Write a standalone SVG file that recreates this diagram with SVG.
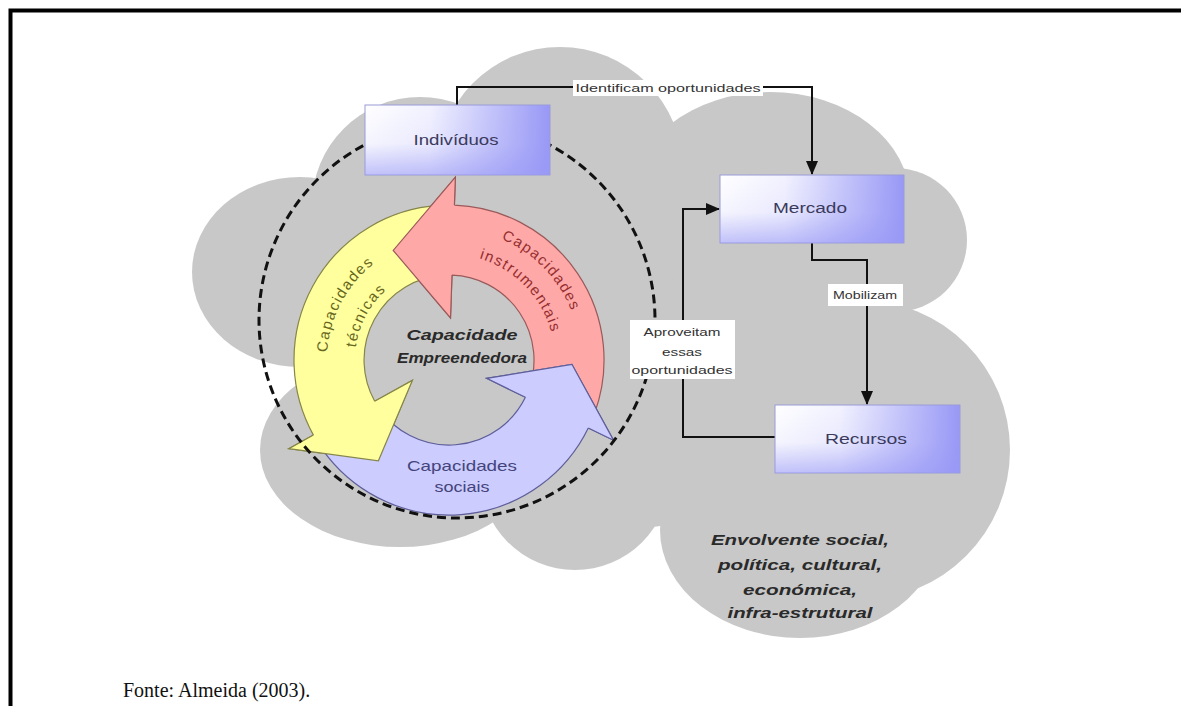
<svg xmlns="http://www.w3.org/2000/svg" width="1181" height="706" viewBox="0 0 1181 706">
<style>
.cloud{fill:#c8c8c8;stroke:none}
.box{fill:url(#gh);stroke:#9a9ad8;stroke-width:1}
.boxv{fill:url(#gv);stroke:none}
.btxt{font-family:"Liberation Sans",Arial,sans-serif;font-size:14px;fill:#3a3a5c;text-anchor:middle}
.lbl{font-family:"Liberation Sans",Arial,sans-serif;font-size:11px;fill:#333;text-anchor:middle}
.lblbg{fill:#ffffff}
.conn{fill:none;stroke:#111;stroke-width:2}
.bi{font-family:"Liberation Sans",Arial,sans-serif;font-size:15px;font-weight:bold;font-style:italic;fill:#2a2a2a;text-anchor:middle}
.arc{font-family:"Liberation Sans",Arial,sans-serif;font-size:15px;letter-spacing:1.5px;text-anchor:middle}
</style>
<defs>
<linearGradient id="gh" x1="0" y1="0" x2="1" y2="0">
<stop offset="0" stop-color="#ffffff"/>
<stop offset="0.35" stop-color="#f2f2ff"/>
<stop offset="1" stop-color="#9898f6"/>
</linearGradient>
<linearGradient id="gv" x1="0" y1="0" x2="0" y2="1">
<stop offset="0" stop-color="#9898f6" stop-opacity="0"/>
<stop offset="0.55" stop-color="#9898f6" stop-opacity="0.1"/>
<stop offset="1" stop-color="#9898f6" stop-opacity="0.6"/>
</linearGradient>
<marker id="ah" markerUnits="userSpaceOnUse" markerWidth="14" markerHeight="12" refX="13" refY="6" orient="auto">
<path d="M0,0 L14,6 L0,12 z" fill="#111"/>
</marker>
<path id="pk1" d="M464.8,229.0 A132,132 0 0 1 580.5,348.5"/>
<path id="pk2" d="M462.0,254.8 A106,106 0 0 1 554.6,350.8"/>
<path id="yl1" d="M328.8,381.2 A122,122 0 0 1 399.4,248.5"/>
<path id="yl2" d="M356.4,376.3 A94,94 0 0 1 410.8,274.1"/>
</defs>

<rect width="1181" height="706" fill="#ffffff"/>
<path d="M10.5,706 V10.5 H1181" fill="none" stroke="#000" stroke-width="4"/>

<g id="cloud">
<ellipse class="cloud" cx="600" cy="330" rx="300" ry="200"/>
<ellipse class="cloud" cx="300" cy="272" rx="108" ry="95"/>
<circle class="cloud" cx="420" cy="205" r="108"/>
<circle class="cloud" cx="560" cy="170" r="123"/>
<ellipse class="cloud" cx="770" cy="200" rx="140" ry="108"/>
<circle class="cloud" cx="895" cy="240" r="72"/>
<circle class="cloud" cx="860" cy="450" r="150"/>
<ellipse class="cloud" cx="800" cy="530" rx="140" ry="108"/>
<circle class="cloud" cx="575" cy="475" r="95"/>
<ellipse class="cloud" cx="400" cy="450" rx="140" ry="97"/>
</g>

<g id="cycle">
<path d="M594.7,413.0 A155,155 0 0 0 454.4,205.1 L455.4,177.1 L393.2,250.4 L450.5,318.0 L452.0,275.1 A85,85 0 0 1 528.9,389.1 Z" fill="#ffa8a8" stroke="#9a5a5a" stroke-width="1.2"/>
<path d="M438.2,205.4 A155,155 0 0 0 313.4,435.1 L288.9,448.7 L378.4,460.8 L412.3,380.4 L374.7,401.2 A85,85 0 0 1 443.1,275.2 Z" fill="#ffff9e" stroke="#86864a" stroke-width="1.2"/>
<path d="M322.0,448.9 A155,155 0 0 0 588.3,428.0 L613.5,440.2 L571.9,364.3 L486.7,378.4 L525.4,397.3 A85,85 0 0 1 379.4,408.8 Z" fill="#ccccff" stroke="#5e5e9a" stroke-width="1.2"/>
<path d="M455.4,177.1 L393.2,250.4 L450.5,318.0 Z" fill="#ffa8a8"/>
<path d="M454.4,205.1 L455.4,177.1 L393.2,250.4 L450.5,318.0 L452.0,275.1" fill="none" stroke="#9a5a5a" stroke-width="1.2"/>
<path d="M288.9,448.7 L378.4,460.8 L412.3,380.4 Z" fill="#ffff9e"/>
<path d="M313.4,435.1 L288.9,448.7 L378.4,460.8 L412.3,380.4 L374.7,401.2" fill="none" stroke="#86864a" stroke-width="1.2"/>
<path d="M613.5,440.2 L571.9,364.3 L486.7,378.4 Z" fill="#ccccff"/>
<path d="M588.3,428.0 L613.5,440.2 L571.9,364.3 L486.7,378.4 L525.4,397.3" fill="none" stroke="#5e5e9a" stroke-width="1.2"/>
<text class="arc" fill="#952e2e"><textPath href="#pk1" startOffset="50%">Capacidades</textPath></text>
<text class="arc" fill="#952e2e"><textPath href="#pk2" startOffset="50%">instrumentais</textPath></text>
<text class="arc" fill="#66661c"><textPath href="#yl1" startOffset="50%">Capacidades</textPath></text>
<text class="arc" fill="#66661c"><textPath href="#yl2" startOffset="50%">técnicas</textPath></text>
<text class="arc" fill="#44447c" x="462" y="471" textLength="110" lengthAdjust="spacingAndGlyphs" style="letter-spacing:0">Capacidades</text>
<text class="arc" fill="#44447c" x="462" y="492" textLength="55" lengthAdjust="spacingAndGlyphs" style="letter-spacing:0">sociais</text>
<text class="bi" x="462" y="340" textLength="111" lengthAdjust="spacingAndGlyphs">Capacidade</text>
<text class="bi" x="462" y="363" textLength="130" lengthAdjust="spacingAndGlyphs">Empreendedora</text>
</g>

<circle id="boundary" cx="457" cy="320" r="198" fill="none" stroke="#111" stroke-width="3" stroke-dasharray="9 5"/>

<g id="connectors">
<path class="conn" d="M457,105 V87 H812 V174" marker-end="url(#ah)"/>
<path class="conn" d="M812,243 V260 H867 V404" marker-end="url(#ah)"/>
<path class="conn" d="M775,437 H683 V209 H719" marker-end="url(#ah)"/>
<rect class="lblbg" x="573" y="80" width="190" height="16"/>
<text class="lbl" x="668" y="92" textLength="185" lengthAdjust="spacingAndGlyphs">Identificam oportunidades</text>
<rect class="lblbg" x="828" y="284" width="75" height="22"/>
<text class="lbl" x="865" y="299" textLength="64" lengthAdjust="spacingAndGlyphs">Mobilizam</text>
<rect class="lblbg" x="630" y="320" width="105" height="59"/>
<text class="lbl" x="682" y="336" textLength="77" lengthAdjust="spacingAndGlyphs">Aproveitam</text>
<text class="lbl" x="682" y="356" textLength="40" lengthAdjust="spacingAndGlyphs">essas</text>
<text class="lbl" x="682" y="374" textLength="101" lengthAdjust="spacingAndGlyphs">oportunidades</text>
</g>

<g id="individuos">
<rect class="box" x="365" y="105" width="185" height="70"/>
<rect class="boxv" x="365" y="105" width="185" height="70"/>
<text class="btxt" x="456" y="145" textLength="85" lengthAdjust="spacingAndGlyphs">Indivíduos</text>
</g>
<g id="mercado">
<rect class="box" x="720" y="175" width="184" height="68"/>
<rect class="boxv" x="720" y="175" width="184" height="68"/>
<text class="btxt" x="810" y="213" textLength="74" lengthAdjust="spacingAndGlyphs">Mercado</text>
</g>
<g id="recursos">
<rect class="box" x="775" y="405" width="185" height="68"/>
<rect class="boxv" x="775" y="405" width="185" height="68"/>
<text class="btxt" x="866" y="444" textLength="82" lengthAdjust="spacingAndGlyphs">Recursos</text>
</g>

<g id="envolvente">
<text class="bi" x="800" y="545" textLength="178" lengthAdjust="spacingAndGlyphs">Envolvente social,</text>
<text class="bi" x="800" y="570" textLength="164" lengthAdjust="spacingAndGlyphs">política, cultural,</text>
<text class="bi" x="800" y="595" textLength="114" lengthAdjust="spacingAndGlyphs">económica,</text>
<text class="bi" x="800" y="618" textLength="145" lengthAdjust="spacingAndGlyphs">infra-estrutural</text>
</g>

<text x="123" y="697" font-family="'Liberation Serif','Times New Roman',serif" font-size="20" fill="#111">Fonte: Almeida (2003).</text>
</svg>
